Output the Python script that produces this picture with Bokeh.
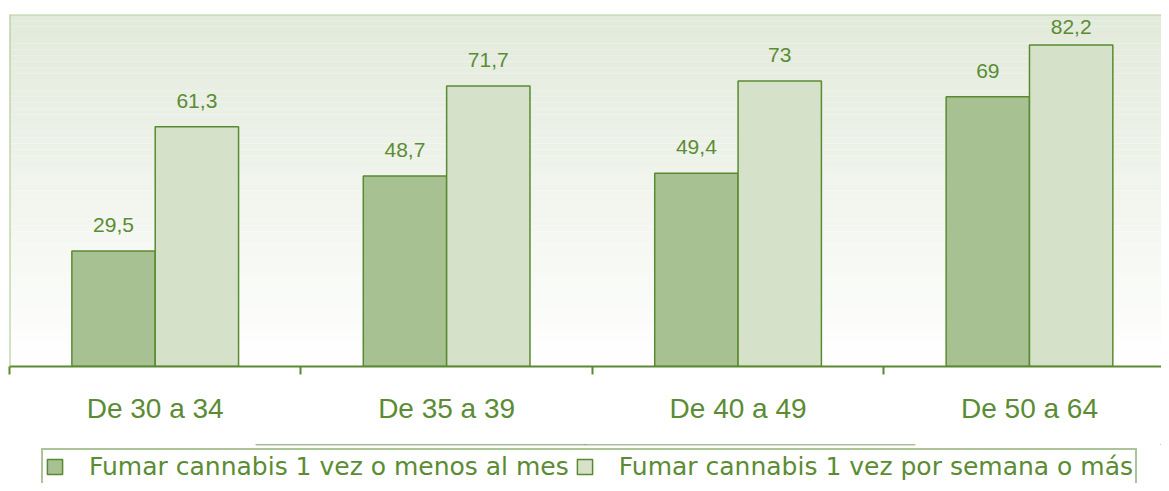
from bokeh.plotting import figure
from bokeh.layouts import column
from bokeh.models import (Range1d, FixedTicker, ColumnDataSource, LabelSet, Legend,
                          LegendItem, BoxAnnotation, Span)
from bokeh.core.properties import value
from bokeh.embed import file_html
from bokeh.resources import INLINE

categories = ["De 30 a 34", "De 35 a 39", "De 40 a 49", "De 50 a 64"]
monthly = [29.5, 48.7, 49.4, 69]
weekly = [61.3, 71.7, 73, 82.2]
series_names = ["Fumar cannabis 1 vez o menos al mes",
                "Fumar cannabis 1 vez por semana o más"]

GREEN = "#5a8a30"
TEXT = "#5b8c34"
DARK_FILL = "#a7c193"
LIGHT_FILL = "#d5e1c9"


def fmt(v):
    return ("%g" % v).replace(".", ",")


centers = [i + 0.5 for i in range(len(categories))]
bw = 0.286
Y_MAX = 90
FRAME_H = 352
PX_PER_UNIT = FRAME_H / Y_MAX


def label_offsets(vals):
    # labels float 19px above the bar, squeezed down when near the top edge
    return [min(19, (Y_MAX - v) * PX_PER_UNIT - 19) for v in vals]


src1 = ColumnDataSource(dict(x=[c - bw / 2 for c in centers], y=monthly,
                             lab=[fmt(v) for v in monthly],
                             off=label_offsets(monthly)))
src2 = ColumnDataSource(dict(x=[c + bw / 2 for c in centers], y=weekly,
                             lab=[fmt(v) for v in weekly],
                             off=label_offsets(weekly)))

p = figure(width=1161, height=444,
           x_range=Range1d(0, 3.953), y_range=Range1d(0, Y_MAX),
           min_border_left=9, min_border_right=0, min_border_top=14,
           min_border_bottom=78, y_axis_location=None,
           toolbar_location=None, output_backend="svg",
           background_fill_color="white", border_fill_color="white",
           outline_line_color=None)

# gradient background: light green at top fading to white at bottom
top_rgb = (0xe2, 0xea, 0xdb)
n_bands = 60
for i in range(n_bands):
    t = (i + 0.5) / n_bands
    r = round(255 + (top_rgb[0] - 255) * t)
    g = round(255 + (top_rgb[1] - 255) * t)
    b = round(255 + (top_rgb[2] - 255) * t)
    p.add_layout(BoxAnnotation(bottom=Y_MAX * i / n_bands,
                               top=Y_MAX * (i + 1) / n_bands,
                               fill_color="#%02x%02x%02x" % (r, g, b),
                               fill_alpha=1, line_color=None, level="underlay"))

p.add_layout(Span(location=Y_MAX, dimension="width", line_color="#b8cea8",
                  line_width=2))
p.add_layout(Span(location=0, dimension="height", line_color="#a6c58e",
                  line_width=2))

bar_style = dict(width=bw, line_color=GREEN, line_width=1.5)
p.vbar(x="x", top="y", source=src1, fill_color=DARK_FILL, **bar_style)
p.vbar(x="x", top="y", source=src2, fill_color=LIGHT_FILL, **bar_style)

for s in (src1, src2):
    p.add_layout(LabelSet(x="x", y="y", text="lab", source=s, y_offset="off",
                          text_align="center", text_baseline="alphabetic",
                          text_font=value("Liberation Sans"),
                          text_font_size=value("21px"),
                          text_color=TEXT))

p.grid.visible = False
ax = p.xaxis[0]
ax.ticker = FixedTicker(ticks=centers, minor_ticks=[0, 1, 2, 3, 4])
ax.major_label_overrides = {c: cat for c, cat in zip(centers, categories)}
ax.major_tick_line_color = None
ax.major_tick_out = 0
ax.major_tick_in = 0
ax.minor_tick_out = 8
ax.minor_tick_in = 0
ax.minor_tick_line_color = GREEN
ax.minor_tick_line_width = 2
ax.axis_line_color = GREEN
ax.axis_line_width = 2
ax.major_label_standoff = 18
ax.major_label_text_font = "Liberation Sans"
ax.major_label_text_font_size = "28px"
ax.major_label_text_color = TEXT

# legend strip below the chart (its bars lie outside the strip's view)
lg = figure(width=1161, height=39, x_range=Range1d(0, 1), y_range=Range1d(-2, -1),
            min_border_left=9, min_border_right=0, min_border_top=0,
            min_border_bottom=0, x_axis_location=None, y_axis_location=None,
            toolbar_location=None, output_backend="svg",
            background_fill_color="white", border_fill_color="white",
            outline_line_color=None)
lg.grid.visible = False
l1 = lg.vbar(x="x", top="y", source=src1, fill_color=DARK_FILL, **bar_style)
l2 = lg.vbar(x="x", top="y", source=src2, fill_color=LIGHT_FILL, **bar_style)

legend = Legend(items=[LegendItem(label=series_names[0], renderers=[l1]),
                       LegendItem(label=series_names[1], renderers=[l2])],
                location=(32, -2), orientation="horizontal",
                border_line_color=GREEN, border_line_width=2,
                padding=2, spacing=6, label_standoff=25, margin=0,
                glyph_width=19, glyph_height=19,
                label_text_font="DejaVu Sans", label_text_font_size="25px",
                label_text_color=TEXT, background_fill_color="white",
                background_fill_alpha=1)
lg.add_layout(legend)

open("out.html", "w").write(file_html(column(p, lg, spacing=0), INLINE))
